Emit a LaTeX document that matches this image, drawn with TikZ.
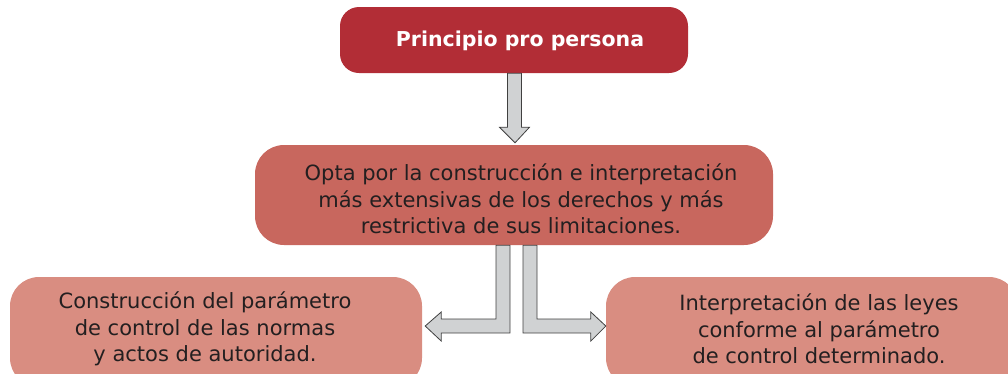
\documentclass[tikz,border=0pt]{standalone}
\usepackage{fontspec}
\setmainfont{DejaVu Sans}
\usetikzlibrary{calc}
\definecolor{topred}{HTML}{B22D36}
\definecolor{midred}{HTML}{C8675E}
\definecolor{lowred}{HTML}{D98D81}
\definecolor{txt}{HTML}{231F20}
\definecolor{arrfill}{HTML}{D0D2D3}
\definecolor{arrline}{HTML}{404040}
\tikzset{
  box/.style={draw=none, rounded corners=#1, inner sep=0pt},
  box/.default=22pt,
  label/.style={text=txt, align=center, font=\fontsize{21}{26.5}\selectfont, inner sep=0pt},
  blockarrow/.style={fill=arrfill, draw=arrline, line width=0.8pt, line join=miter},
}
\begin{document}
\begin{tikzpicture}[x=1pt, y=-1pt]
\useasboundingbox (0,0) rectangle (1008,373);
\clip (0,0) rectangle (1008,373);
% boxes
\node[box=19pt, fill=topred, minimum width=348pt, minimum height=66pt] (top) at (514,40) {};
\node[text=white, font=\bfseries\fontsize{20.5}{24}\selectfont, inner sep=0pt] (toptext) at (520,41) {Principio pro persona};
\node[box=29pt, fill=midred, minimum width=518pt, minimum height=100pt] (mid) at (514,195) {};
\node[label] (midtext) at (521,199) {Opta por la construcción e interpretación\\más extensivas de los derechos y más\\restrictiva de sus limitaciones.};
\node[box=29pt, fill=lowred, minimum width=412pt, minimum height=110pt] (bl) at (216,332) {};
\node[label] (bltext) at (205,329) {Construcción del parámetro\\de control de las normas\\y actos de autoridad.};
\node[box=29pt, fill=lowred, minimum width=412pt, minimum height=110pt] (br) at (812,332) {};
\node[label] (brtext) at (819,329) {Interpretación de las leyes\\conforme al parámetro\\de control determinado.};
% down arrow
\draw[blockarrow] ($(top.south)+(-6.5,0)$) -- ($(top.south)+(7.5,0)$) -- ($(top.south)+(7.5,54)$) -- ($(top.south)+(15.5,54)$)
  -- ($(mid.north)+(1,-2)$) -- ($(top.south)+(-14.5,54)$) -- ($(top.south)+(-6.5,54)$) -- cycle;
% left elbow arrow
\coordinate (ltip) at ($(bl.east)+(3,-6)$);
\draw[blockarrow] ($(mid.south)+(-18,0)$) -- ($(mid.south)+(-4,0)$) |- ($(ltip)+(16,7)$) -- ($(ltip)+(16,15)$) -- (ltip)
  -- ($(ltip)+(16,-14)$) -- ($(ltip)+(16,-7)$) -| cycle;
% right elbow arrow
\coordinate (rtip) at ($(br.west)+(0,-6)$);
\draw[blockarrow] ($(mid.south)+(9,0)$) -- ($(mid.south)+(23,0)$) |- ($(rtip)+(-15,-7)$) -- ($(rtip)+(-15,-14)$) -- (rtip)
  -- ($(rtip)+(-15,15)$) -- ($(rtip)+(-15,7)$) -| cycle;
\end{tikzpicture}
\end{document}
